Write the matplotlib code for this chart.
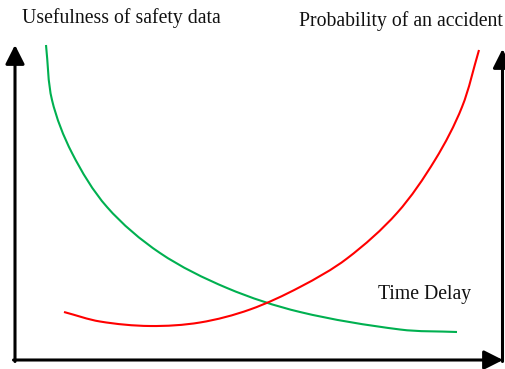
import matplotlib
matplotlib.use("Agg")
import matplotlib.pyplot as plt
import numpy as np
from matplotlib.path import Path
from matplotlib.patches import PathPatch

# Usefulness of safety data (green), decreasing with time delay
green_x = [31, 37, 57, 92, 145, 212, 285, 385, 442]
green_y = [315, 260, 207, 153, 107, 72, 48, 30.5, 28]

# Probability of an accident (red), increasing with time delay
red_x = [49, 85, 135, 185, 235, 285, 332, 382, 420, 447, 464]
red_y = [48, 38.5, 34, 37.5, 50.5, 73, 101.5, 147, 200, 253, 310]

left_label = "Usefulness of safety data"
right_label = "Probability of an accident"
x_label = "Time Delay"


def smooth_path(xs, ys):
    """Cubic Bezier path through the given points (chord-length tangents)."""
    p = np.column_stack([xs, ys]).astype(float)
    n = len(p)
    seg = np.hypot(*np.diff(p, axis=0).T)
    t = np.concatenate([[0], np.cumsum(seg)])
    m = np.zeros_like(p)
    m[0] = (p[1] - p[0]) / (t[1] - t[0])
    m[-1] = (p[-1] - p[-2]) / (t[-1] - t[-2])
    for i in range(1, n - 1):
        m[i] = (p[i + 1] - p[i - 1]) / (t[i + 1] - t[i - 1])
    verts = [tuple(p[0])]
    codes = [Path.MOVETO]
    for i in range(n - 1):
        h = t[i + 1] - t[i]
        verts += [tuple(p[i] + m[i] * h / 3), tuple(p[i + 1] - m[i + 1] * h / 3),
                  tuple(p[i + 1])]
        codes += [Path.CURVE4] * 3
    return Path(verts, codes)


fig = plt.figure(figsize=(5.05, 3.69), dpi=100)
ax = fig.add_axes([0, 0, 1, 1])
ax.set_xlim(-15, 490)
ax.set_ylim(-9, 360)
ax.axis("off")

ax.add_patch(PathPatch(smooth_path(green_x, green_y), fill=False,
                       edgecolor="#00B050", lw=1.5, capstyle="butt"))
ax.add_patch(PathPatch(smooth_path(red_x, red_y), fill=False,
                       edgecolor="#FF0000", lw=1.5, capstyle="butt"))

style = "-|>,head_length=1.15,head_width=0.58"
kw = dict(arrowstyle=style, lw=2.2, color="black", shrinkA=0, shrinkB=0,
          mutation_scale=10)
ax.annotate("", xy=(0, 315), xytext=(0, -1.5), arrowprops=kw)
ax.annotate("", xy=(488, 0), xytext=(-1.5, 0), arrowprops=kw)
ax.annotate("", xy=(487.5, 311), xytext=(487.5, -1.5), arrowprops=kw)

font = dict(family="Liberation Serif", fontsize=14.2, color="#111111")
ax.text(7, 337, left_label, ha="left", va="baseline", **font)
ax.text(488, 334, right_label, ha="right", va="baseline", **font)
ax.text(363, 61, x_label, ha="left", va="baseline", **font)

fig.savefig("out.png", dpi=100)
